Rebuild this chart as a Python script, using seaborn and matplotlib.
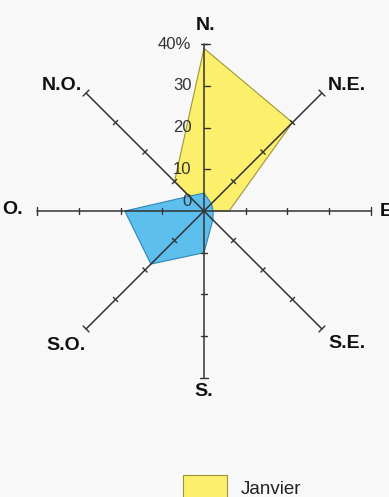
import numpy as np
import pandas as pd
import matplotlib
matplotlib.use("Agg")
import matplotlib.pyplot as plt
import seaborn as sns
from matplotlib.patches import Patch

# wind directions, clockwise from north
directions = ["N.", "N.E.", "E.", "S.E.", "S.", "S.O.", "O.", "N.O."]
angles_deg = [0, 45, 90, 135, 180, 225, 270, 315]
# frequencies in %
janvier = [39, 30, 6, 0, 0, 0, 0, 10]
autre_mois = [4.3, 2.5, 2.2, 3, 10, 18, 19, 5]
rings = [10, 20, 30, 40]
ring_labels = ["10", "20", "30", "40%"]

sns.set_theme(style="white")
plt.rcParams['font.family'] = ['Liberation Sans', 'DejaVu Sans']

bg = "#f8f8f8"
fig = plt.figure(figsize=(3.89, 4.97), dpi=100, facecolor=bg)
ax = fig.add_axes([0, 0, 1, 1])
ax.set_facecolor(bg)

px = 4.17  # pixels per percent
cx, cy = 204, 211
ax.set_xlim(-cx / px, (389 - cx) / px)
ax.set_ylim(-(497 - cy) / px, cy / px)
ax.set_aspect("equal")
ax.axis("off")

df = pd.DataFrame({"dir": directions, "angle": np.radians(angles_deg),
                   "janvier": janvier, "autre": autre_mois})


def to_xy(r, a):
    return np.asarray(r) * np.sin(a), np.asarray(r) * np.cos(a)


# polygons
xj, yj = to_xy(df["janvier"], df["angle"])
ax.fill(xj, yj, facecolor="#fcef6c", edgecolor="#9d9538", lw=0.8, zorder=1)
xb, yb = to_xy(df["autre"], df["angle"])
ax.fill(xb, yb, facecolor="#5cbfee", edgecolor="#2f86b8", lw=0.8, zorder=2)

# spokes with ticks
axis_col = "#333333"
tk = 3 / px
for a in df["angle"]:
    ex, ey = to_xy(40, a)
    ax.plot([0, ex], [0, ey], color=axis_col, lw=1.1, zorder=3)
    nx, ny = np.cos(a), -np.sin(a)  # perpendicular
    for r in rings:
        x0, y0 = to_xy(r, a)
        s = 1.4 if r == 40 else 1.0
        if a == 0:
            ax.plot([x0, x0 + 2 * tk], [y0, y0], color=axis_col, lw=1.0, zorder=3)
            if r == 40:
                ax.plot([x0 - tk, x0 + tk], [y0, y0], color=axis_col, lw=1.0, zorder=3)
        else:
            ax.plot([x0 - s * tk * nx, x0 + s * tk * nx],
                    [y0 - s * tk * ny, y0 + s * tk * ny],
                    color=axis_col, lw=1.0, zorder=3)

# scale labels on north spoke
for r, lab in zip(rings, ring_labels):
    ax.text(-3.0, r, lab, ha="right", va="center", fontsize=12,
            color="#333333", zorder=4)
ax.text(-3.0, 2.2, "0", ha="right", va="center", fontsize=12,
        color="#333333", zorder=4)

# direction labels (pixel positions)
label_pos = {"N.": (206, 26, "center"), "N.E.": (347, 85, "center"),
             "E.": (380, 211, "left"), "S.E.": (347, 343, "center"),
             "S.": (204, 392, "center"), "S.O.": (66, 345, "center"),
             "O.": (13, 210, "center"), "N.O.": (62, 85, "center")}
for d in directions:
    x, y, ha = label_pos[d]
    ax.text((x - cx) / px, (cy - y) / px, d, ha=ha, va="center",
            fontsize=14, fontweight="bold", color="#111111", zorder=4)

# legend (partly cut off at the bottom)
handles = [Patch(facecolor="#fcef6c", edgecolor="#9d9538", lw=0.8, label="Janvier")]
fig.legend(handles=handles, loc="upper left", bbox_to_anchor=(183 / 389, 1 - 475 / 497),
           frameon=False, fontsize=13.5, handlelength=2.35, handleheight=1.7,
           borderpad=0, borderaxespad=0, handletextpad=0.75, labelcolor="#222222")

fig.savefig("out.png", dpi=100, facecolor=bg)
